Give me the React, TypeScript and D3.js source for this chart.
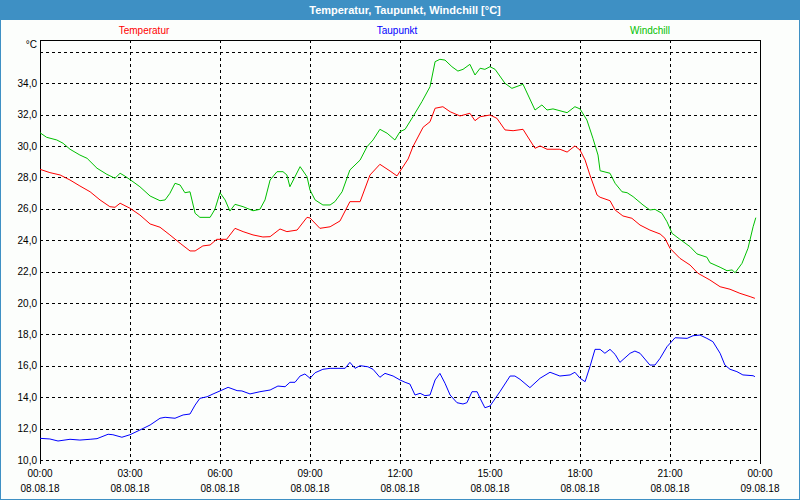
import React from "react";
import * as d3 from "d3";

const tempHours = [0,0.33,0.67,1,1.33,1.67,2,2.33,2.5,2.67,3,3.33,3.67,4,4.33,4.67,5,5.17,5.43,5.67,5.89,6.22,6.5,6.77,7.1,7.43,7.67,8,8.23,8.57,8.9,9,9.33,9.67,10,10.33,10.67,11,11.33,11.67,11.9,12.27,12.43,12.77,13,13.17,13.43,13.67,14,14.33,14.5,14.67,15,15.23,15.5,15.77,16.1,16.5,16.67,16.9,17.33,17.57,17.83,18,18.17,18.33,18.57,18.67,19,19.17,19.43,19.73,20,20.33,20.67,20.83,21,21.33,21.67,21.93,22.33,22.67,23,23.33,23.67,23.83];
const tempValues = [28.52,28.31,28.16,27.84,27.46,27.09,26.57,26.14,26.1,26.36,26.04,25.61,25.04,24.83,24.34,23.81,23.32,23.32,23.64,23.7,24.06,24.06,24.76,24.55,24.34,24.21,24.23,24.72,24.55,24.65,25.46,25.42,24.76,24.86,25.23,26.46,26.46,28.16,28.84,28.41,28.1,29.18,29.96,31.2,31.55,32.41,32.51,32.19,31.92,32.09,31.62,31.87,31.98,31.77,31.03,30.98,31.07,29.86,30.01,29.8,29.8,29.62,30.01,29.75,29.11,28.16,26.88,26.74,26.52,25.93,25.55,25.4,24.97,24.65,24.4,24.13,23.49,22.85,22.42,21.9,21.47,21.04,20.88,20.62,20.41,20.3];

const dewHours = [0,0.33,0.6,1,1.33,1.67,1.9,2.27,2.43,2.73,3,3.33,3.67,4,4.17,4.5,4.77,5,5.17,5.33,5.57,5.77,6,6.27,6.57,6.73,7,7.33,7.67,7.93,8.17,8.33,8.5,8.67,8.83,9,9.17,9.43,9.67,10.17,10.33,10.5,10.67,10.93,11.1,11.33,11.5,11.77,12,12.17,12.33,12.5,12.67,12.83,13,13.17,13.33,13.5,13.67,13.9,14.1,14.23,14.4,14.57,14.67,14.83,15,15.33,15.67,15.83,16,16.33,16.67,17,17.33,17.67,17.83,18,18.17,18.33,18.5,18.67,18.83,19,19.17,19.33,19.67,19.83,20,20.33,20.5,20.67,20.9,21.17,21.57,21.77,22,22.23,22.43,22.67,22.83,23,23.23,23.43,23.77,23.83];
const dewValues = [11.38,11.34,11.21,11.32,11.27,11.32,11.36,11.64,11.61,11.45,11.61,11.91,12.23,12.66,12.72,12.66,12.87,12.93,13.5,13.93,14.03,14.21,14.4,14.63,14.42,14.4,14.21,14.35,14.46,14.71,14.67,14.95,14.95,15.35,15.48,15.21,15.56,15.78,15.84,15.84,16.22,15.84,16.01,15.94,15.78,15.27,15.52,15.35,15.1,14.95,14.84,14.14,14.25,14.1,14.14,15.1,15.52,14.89,14.14,13.65,13.57,13.65,14.35,14.35,13.93,13.33,13.44,14.35,15.35,15.35,15.14,14.61,15.21,15.59,15.35,15.42,15.59,15.21,14.99,15.94,17.05,17.05,16.8,17.05,16.73,16.22,16.8,16.94,16.8,16.05,16.05,16.48,17.22,17.79,17.75,17.92,17.96,17.75,17.54,16.8,16.05,15.78,15.63,15.42,15.37,15.31];

const windHours = [0,0.22,0.56,0.77,1,1.33,1.57,1.9,2.23,2.5,2.67,2.83,3.1,3.33,3.67,4,4.17,4.33,4.5,4.67,4.83,5,5.17,5.33,5.67,5.83,6,6.17,6.33,6.5,6.77,7.1,7.33,7.5,7.67,7.9,8.1,8.23,8.33,8.67,8.9,9,9.17,9.43,9.67,9.83,10.07,10.33,10.67,10.9,11.1,11.33,11.57,11.83,12,12.17,12.43,12.73,13,13.17,13.33,13.5,13.73,13.93,14.1,14.33,14.5,14.67,14.83,15,15.17,15.5,15.73,16.1,16.5,16.73,16.9,17.1,17.57,17.83,18,18.23,18.43,18.6,18.67,19,19.17,19.4,19.57,19.77,20.1,20.33,20.5,20.73,20.9,21.07,21.33,21.67,21.9,22.23,22.33,22.67,22.9,23.07,23.17,23.4,23.6,23.77,23.86];
const windValues = [30.85,30.56,30.39,30.18,29.8,29.43,29.22,28.59,28.2,27.95,28.27,28.09,27.73,27.41,26.82,26.52,26.57,26.99,27.63,27.52,27.03,27.09,25.72,25.46,25.46,25.97,27.03,26.57,25.86,26.29,26.14,25.88,25.97,26.57,27.84,28.37,28.37,28.16,27.41,28.69,28.05,27.2,26.57,26.25,26.25,26.46,27.09,28.48,29.11,29.96,30.39,31.07,30.82,30.39,30.92,31.07,31.87,32.83,33.78,35.38,35.53,35.48,35.06,34.78,34.89,35.21,34.53,34.96,34.89,35.06,34.89,34.0,33.68,33.94,32.3,32.62,32.3,32.37,32.13,32.51,32.37,31.66,30.5,29.43,28.43,28.27,27.63,27.09,27.03,26.78,26.25,25.93,25.97,25.72,25.18,24.44,24.06,23.59,23.13,22.92,22.57,22.28,22.06,22.11,21.93,22.53,23.49,24.86,25.44];

const yTicks = [10,12,14,16,18,20,22,24,26,28,30,32,34];
const yGrid = [10,12,14,16,18,20,22,24,26,28,30,32,34,36];
const xMajor = [0,3,6,9,12,15,18,21,24];
const xTimeLabels = ["00:00","03:00","06:00","09:00","12:00","15:00","18:00","21:00","00:00"];
const xDateLabels = ["08.08.18","08.08.18","08.08.18","08.08.18","08.08.18","08.08.18","08.08.18","08.08.18","09.08.18"];

const title = "Temperatur, Taupunkt, Windchill [°C]";
const seriesNames = ["Temperatur","Taupunkt","Windchill"];
const seriesColors = ["#ff0000","#0000ff","#00c000"];

export default function App() {
  const W = 800, H = 500;
  const L = 40, R = 760, T = 40, B = 460;
  const x = d3.scaleLinear().domain([0, 24]).range([L, R]);
  const y = d3.scaleLinear().domain([10, 36.76]).range([B, T]);
  const line = d3.line<[number, number]>().x(d => x(d[0])).y(d => y(d[1]));
  const series = [
    d3.zip(tempHours, tempValues) as [number, number][],
    d3.zip(dewHours, dewValues) as [number, number][],
    d3.zip(windHours, windValues) as [number, number][],
  ];
  const hours = d3.range(0, 25);
  const font = "'Liberation Sans', Arial, sans-serif";
  const legendX = [144, 397, 650];

  return (
    <svg width={W} height={H} style={{ position: "absolute", left: 0, top: 0 }} fontFamily={font}>
      <rect x={0} y={0} width={W} height={H} fill="#fcfefc" />
      <rect x={0.5} y={0.5} width={W - 1} height={H - 1} fill="none" stroke="#3e90c4" strokeWidth={1} />
      <rect x={0} y={0} width={W} height={20} fill="#3e90c4" />
      <text x={405} y={14} textAnchor="middle" fill="#ffffff" fontWeight="bold" fontSize={11}>{title}</text>

      {seriesNames.map((n, i) => (
        <text key={n} x={legendX[i]} y={34} textAnchor="middle" fill={seriesColors[i]} fontSize={10}>{n}</text>
      ))}

      {/* grid */}
      <g stroke="#000" strokeWidth={1} strokeDasharray="3,3" shapeRendering="crispEdges">
        {yGrid.map(v => (
          <line key={"h" + v} x1={L} x2={R} y1={Math.round(y(v)) + 0.5} y2={Math.round(y(v)) + 0.5} />
        ))}
        {xMajor.slice(1, -1).map(h => (
          <line key={"v" + h} x1={x(h) + 0.5} x2={x(h) + 0.5} y1={T} y2={B} />
        ))}
      </g>
      {/* frame */}
      <g stroke="#000" strokeWidth={1} shapeRendering="crispEdges">
        <line x1={L + 0.5} x2={L + 0.5} y1={T} y2={B + 4} />
        <line x1={R + 0.5} x2={R + 0.5} y1={T} y2={B + 4} />
        <line x1={L} x2={R + 1} y1={T + 0.5} y2={T + 0.5} />
        {hours.map(h => (
          <line key={"t" + h} x1={x(h) + 0.5} x2={x(h) + 0.5} y1={B} y2={B + 4} />
        ))}
      </g>

      {/* y labels */}
      <g fontSize={10} fill="#000" textAnchor="end">
        {yTicks.map(v => (
          <text key={v} x={37} y={y(v) + 3.5}>{v.toFixed(1).replace(".", ",")}</text>
        ))}
        <text x={37} y={48}>°C</text>
      </g>
      {/* x labels */}
      <g fontSize={10} fill="#000" textAnchor="middle">
        {xMajor.map((h, i) => (
          <g key={"xl" + i}>
            <text x={x(h)} y={477}>{xTimeLabels[i]}</text>
            <text x={x(h)} y={492}>{xDateLabels[i]}</text>
          </g>
        ))}
      </g>

      {series.map((s, i) => (
        <path key={i} d={line(s) || ""} fill="none" stroke={seriesColors[i]} strokeWidth={1} />
      ))}
    </svg>
  );
}
